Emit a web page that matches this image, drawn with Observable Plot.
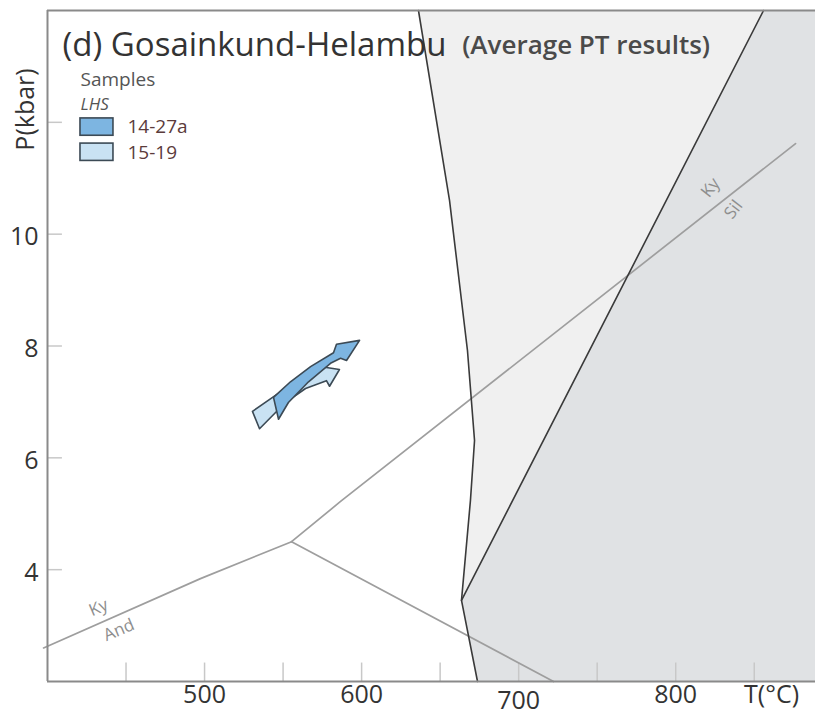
<!DOCTYPE html>
<html>
<head>
<meta charset="utf-8">
<script src="https://cdn.jsdelivr.net/npm/d3@7"></script>
<script src="https://cdn.jsdelivr.net/npm/@observablehq/plot@0.6"></script>
<style>
  html, body { margin: 0; padding: 0; background: #fff; }
  #chart svg { display: block; }
</style>
</head>
<body>
<div id="chart"></div>
<script>
// Axis extent (T in °C, P in kbar)
const tRange = [400, 889];
const pRange = [2, 14];

// Tick values
const tempTicks = [450, 500, 550, 600, 650, 700, 750, 800, 850];
const tempLabels = [500, 600, 700, 800];
const presTicks = [4, 6, 8, 10, 12];
const presLabels = [4, 6, 8, 10];

// Reaction curves, [T, P]
const meltCurve = [[636.2, 14], [656.0, 10.6], [667.4, 7.92], [671.9, 6.31], [669.3, 5.24], [663.6, 3.45], [673.8, 2]];
const musOut = [[855.9, 14], [663.6, 3.45]];
const kySil = [[555.4, 4.5], [586.6, 5.22], [876.3, 11.62]];
const kyAnd = [[397.5, 2.6], [497.4, 3.84], [555.4, 4.5]];
const andSil = [[555.4, 4.5], [722.2, 2]];

// Samples and their average PT paths
const samples = ["14-27a", "15-19"];
const sampleFills = ["#7db5e1", "#c9e2f3"];
const path1519 = [[530.5, 6.83], [543.3, 7.08], [557.9, 7.36], [572.5, 7.56], [574.5, 7.63], [585.9, 7.58],
                  [579.6, 7.28], [577.6, 7.38], [564.3, 7.24], [551.5, 6.99], [535.0, 6.52]];
const path1427a = [[543.9, 7.08], [554.7, 7.36], [567.5, 7.63], [582.1, 7.88], [584.0, 8.03], [598.7, 8.10],
                   [590.4, 7.74], [586.6, 7.78], [580.2, 7.69], [566.2, 7.36], [553.4, 6.99], [547.1, 6.69]];

// Shaded fields bounded by the melt curve and muscovite-out curve
const lightField = [...meltCurve.slice(0, 6), ...musOut.slice().reverse()];
const darkField = [...musOut, ...meltCurve.slice(6), [tRange[1], pRange[0]], [tRange[1], pRange[1]]];

const X = d => d[0], Y = d => d[1];
const font = "'Open Sans', Lato, sans-serif";

const chart = Plot.plot({
  width: 815,
  height: 721,
  marginLeft: 47,
  marginRight: 0,
  marginTop: 10,
  marginBottom: 40,
  x: {domain: tRange, axis: null},
  y: {domain: pRange, axis: null},
  style: {fontFamily: font, background: "#fff", overflow: "visible"},
  marks: [
    Plot.line(lightField, {x: X, y: Y, curve: "linear-closed", fill: "#f0f0f0", stroke: "none"}),
    Plot.line(darkField, {x: X, y: Y, curve: "linear-closed", fill: "#e0e2e4", stroke: "none"}),

    // inward tick marks
    Plot.ruleX(tempTicks, {x: d => d, y1: pRange[0], y2: pRange[0] + 0.33, stroke: "#c8c8c8", strokeWidth: 1.5}),
    Plot.ruleY(presTicks, {y: d => d, x1: tRange[0], x2: tRange[0] + 9.5, stroke: "#c8c8c8", strokeWidth: 1.5}),

    // aluminosilicate reactions
    Plot.line(kySil, {x: X, y: Y, stroke: "#9e9e9e", strokeWidth: 1.7}),
    Plot.line(kyAnd, {x: X, y: Y, stroke: "#9e9e9e", strokeWidth: 1.7}),
    Plot.line(andSil, {x: X, y: Y, stroke: "#9e9e9e", strokeWidth: 1.7}),

    // melt and muscovite curves
    Plot.line(meltCurve, {x: X, y: Y, stroke: "#3a3a3a", strokeWidth: 1.6}),
    Plot.line(musOut, {x: X, y: Y, stroke: "#3a3a3a", strokeWidth: 1.6}),

    // reaction labels
    Plot.text(["Ky"], {x: 432.5, y: 3.32, text: d => d, rotate: -23, fontSize: 17, fill: "#8e8e8e"}),
    Plot.text(["And"], {x: 445.5, y: 2.92, text: d => d, rotate: -23, fontSize: 17, fill: "#8e8e8e"}),
    Plot.text(["Ky"], {x: 822.1, y: 10.83, text: d => d, rotate: -52, fontSize: 17, fill: "#8e8e8e"}),
    Plot.text(["Sil"], {x: 836.8, y: 10.44, text: d => d, rotate: -52, fontSize: 17, fill: "#8e8e8e"}),

    // PT paths
    Plot.line(path1519, {x: X, y: Y, curve: "linear-closed", fill: sampleFills[1], stroke: "#3c4a55", strokeWidth: 1.6}),
    Plot.line(path1427a, {x: X, y: Y, curve: "linear-closed", fill: sampleFills[0], stroke: "#3c4a55", strokeWidth: 1.6}),

    // frame
    Plot.ruleX([tRange[0]], {stroke: "#8a8a8a", strokeWidth: 2}),
    Plot.ruleY([pRange[0]], {stroke: "#8a8a8a", strokeWidth: 2}),
    Plot.ruleY([pRange[1]], {stroke: "#8a8a8a", strokeWidth: 2}),

    // tick labels
    Plot.text(tempLabels.filter(t => t !== 700), {x: d => d, y: pRange[0], dy: 13, text: d => String(d), fontSize: 25, fill: "#333"}),
    Plot.text(tempLabels.filter(t => t === 700), {x: d => d, y: pRange[0], dy: 19, text: d => String(d), fontSize: 25, fill: "#333"}),
    Plot.text(["T(°C)"], {x: 861, y: pRange[0], dy: 13, text: d => d, fontSize: 25, fill: "#333"}),
    Plot.text(presLabels, {x: tRange[0], y: d => d, dx: -9, dy: 3, textAnchor: "end", text: d => String(d), fontSize: 25, fill: "#333"}),
    Plot.text(["P(kbar)"], {x: tRange[0], y: 12.23, dx: -22, rotate: -90, text: d => d, fontSize: 25, fill: "#333"}),

    // title
    Plot.text(["(d) Gosainkund-Helambu"], {x: 409.6, y: 13.37, text: d => d, textAnchor: "start", fontSize: 33, fill: "#333"}),
    Plot.text(["(Average PT results)"], {x: 664.0, y: 13.37, text: d => d, textAnchor: "start", fontSize: 26, fontWeight: 600, fill: "#4a4a4a"}),

    // legend
    Plot.text(["Samples"], {x: 421, y: 12.76, text: d => d, textAnchor: "start", fontSize: 19, fill: "#555"}),
    Plot.text(["LHS"], {x: 421, y: 12.32, text: d => d, textAnchor: "start", fontSize: 17, fontStyle: "italic", fill: "#555"}),
    Plot.rect(samples, {x1: 421, x2: 442, y1: (d, i) => 12.07 - i * 0.45, y2: (d, i) => 11.76 - i * 0.45,
      fill: (d, i) => sampleFills[i], stroke: "#3c4a55", strokeWidth: 1.6}),
    Plot.text(samples, {x: 450.9, y: (d, i) => 11.91 - i * 0.45, text: d => d, textAnchor: "start", fontSize: 19, fill: "#5b3b3b"})
  ]
});

document.getElementById("chart").appendChild(chart);
</script>
</body>
</html>
